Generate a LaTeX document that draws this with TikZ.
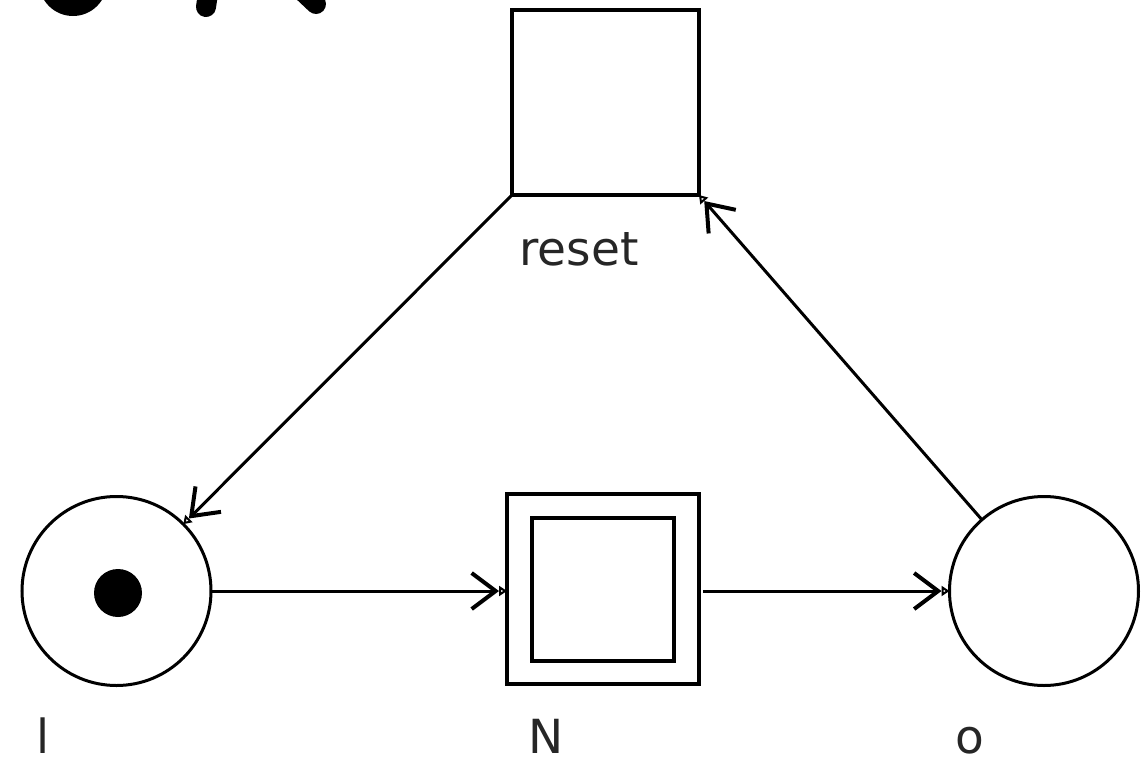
\documentclass[tikz,border=0pt]{standalone}
\usepackage{fontspec}
\setmainfont{DejaVu Sans}
\usetikzlibrary{arrows.meta}
\tikzset{
  place/.style={draw, circle, line width=1.5pt, minimum size=94.5pt, inner sep=0pt, outer sep=0pt},
  token/.style={fill=black, circle, minimum size=24pt, inner sep=0pt},
  trans/.style={draw, rectangle, line width=2pt, inner sep=0pt, outer sep=0pt},
  lab/.style={anchor=base west, inner sep=0pt, text depth=0pt, text=black!85, font=\fontsize{23.5}{28}\selectfont},
  arc/.style={line width=1.5pt, -{Straight Barb[length=12pt,width=18pt,line width=2pt] . Triangle[open,length=4pt,width=5pt,line width=1.3pt]}},
  blob/.style={line width=10pt, line cap=round}
}
\begin{document}
\begin{tikzpicture}[x=0.5pt,y=-0.5pt]
\useasboundingbox (0,0) rectangle (1148,761);
% cut-off shapes at top left
\begin{scope}
\clip (0,0) rectangle (1148,761);
\fill (73,-18) circle[radius=17pt];
\draw[blob] (210,-20) -- (206,7);
\draw[blob] (280,-30) -- (316,4);
\end{scope}
% nodes
\node[trans, minimum width=93.5pt, minimum height=92.5pt] (reset) at (605.5,102.5) {};
\node[lab] (resetlab) at (519,265) {reset};
\node[place] (pi) at (116.5,591) {};
\node[token] (tok) at (118,593) {};
\node[lab] (pilab) at (36,753) {l};
\node[trans, minimum width=96pt, minimum height=95pt] (N) at (603,589) {};
\node[trans, minimum width=71pt, minimum height=71.5pt] (Nin) at (603,589.5) {};
\node[lab] (Nlab) at (528,753) {N};
\node[place] (po) at (1044,591) {};
\node[lab] (polab) at (955,753) {o};
\coordinate (Nout) at ([xshift=2pt]N.east |- po.west);
% arcs
\draw[arc] (pi.east) -- (pi.east -| N.west);
\draw[arc] (Nout) -- (po.west);
\draw[arc] (po) -- (reset.south east);
\draw[arc] (reset.south west) -- (pi);
\end{tikzpicture}
\end{document}
